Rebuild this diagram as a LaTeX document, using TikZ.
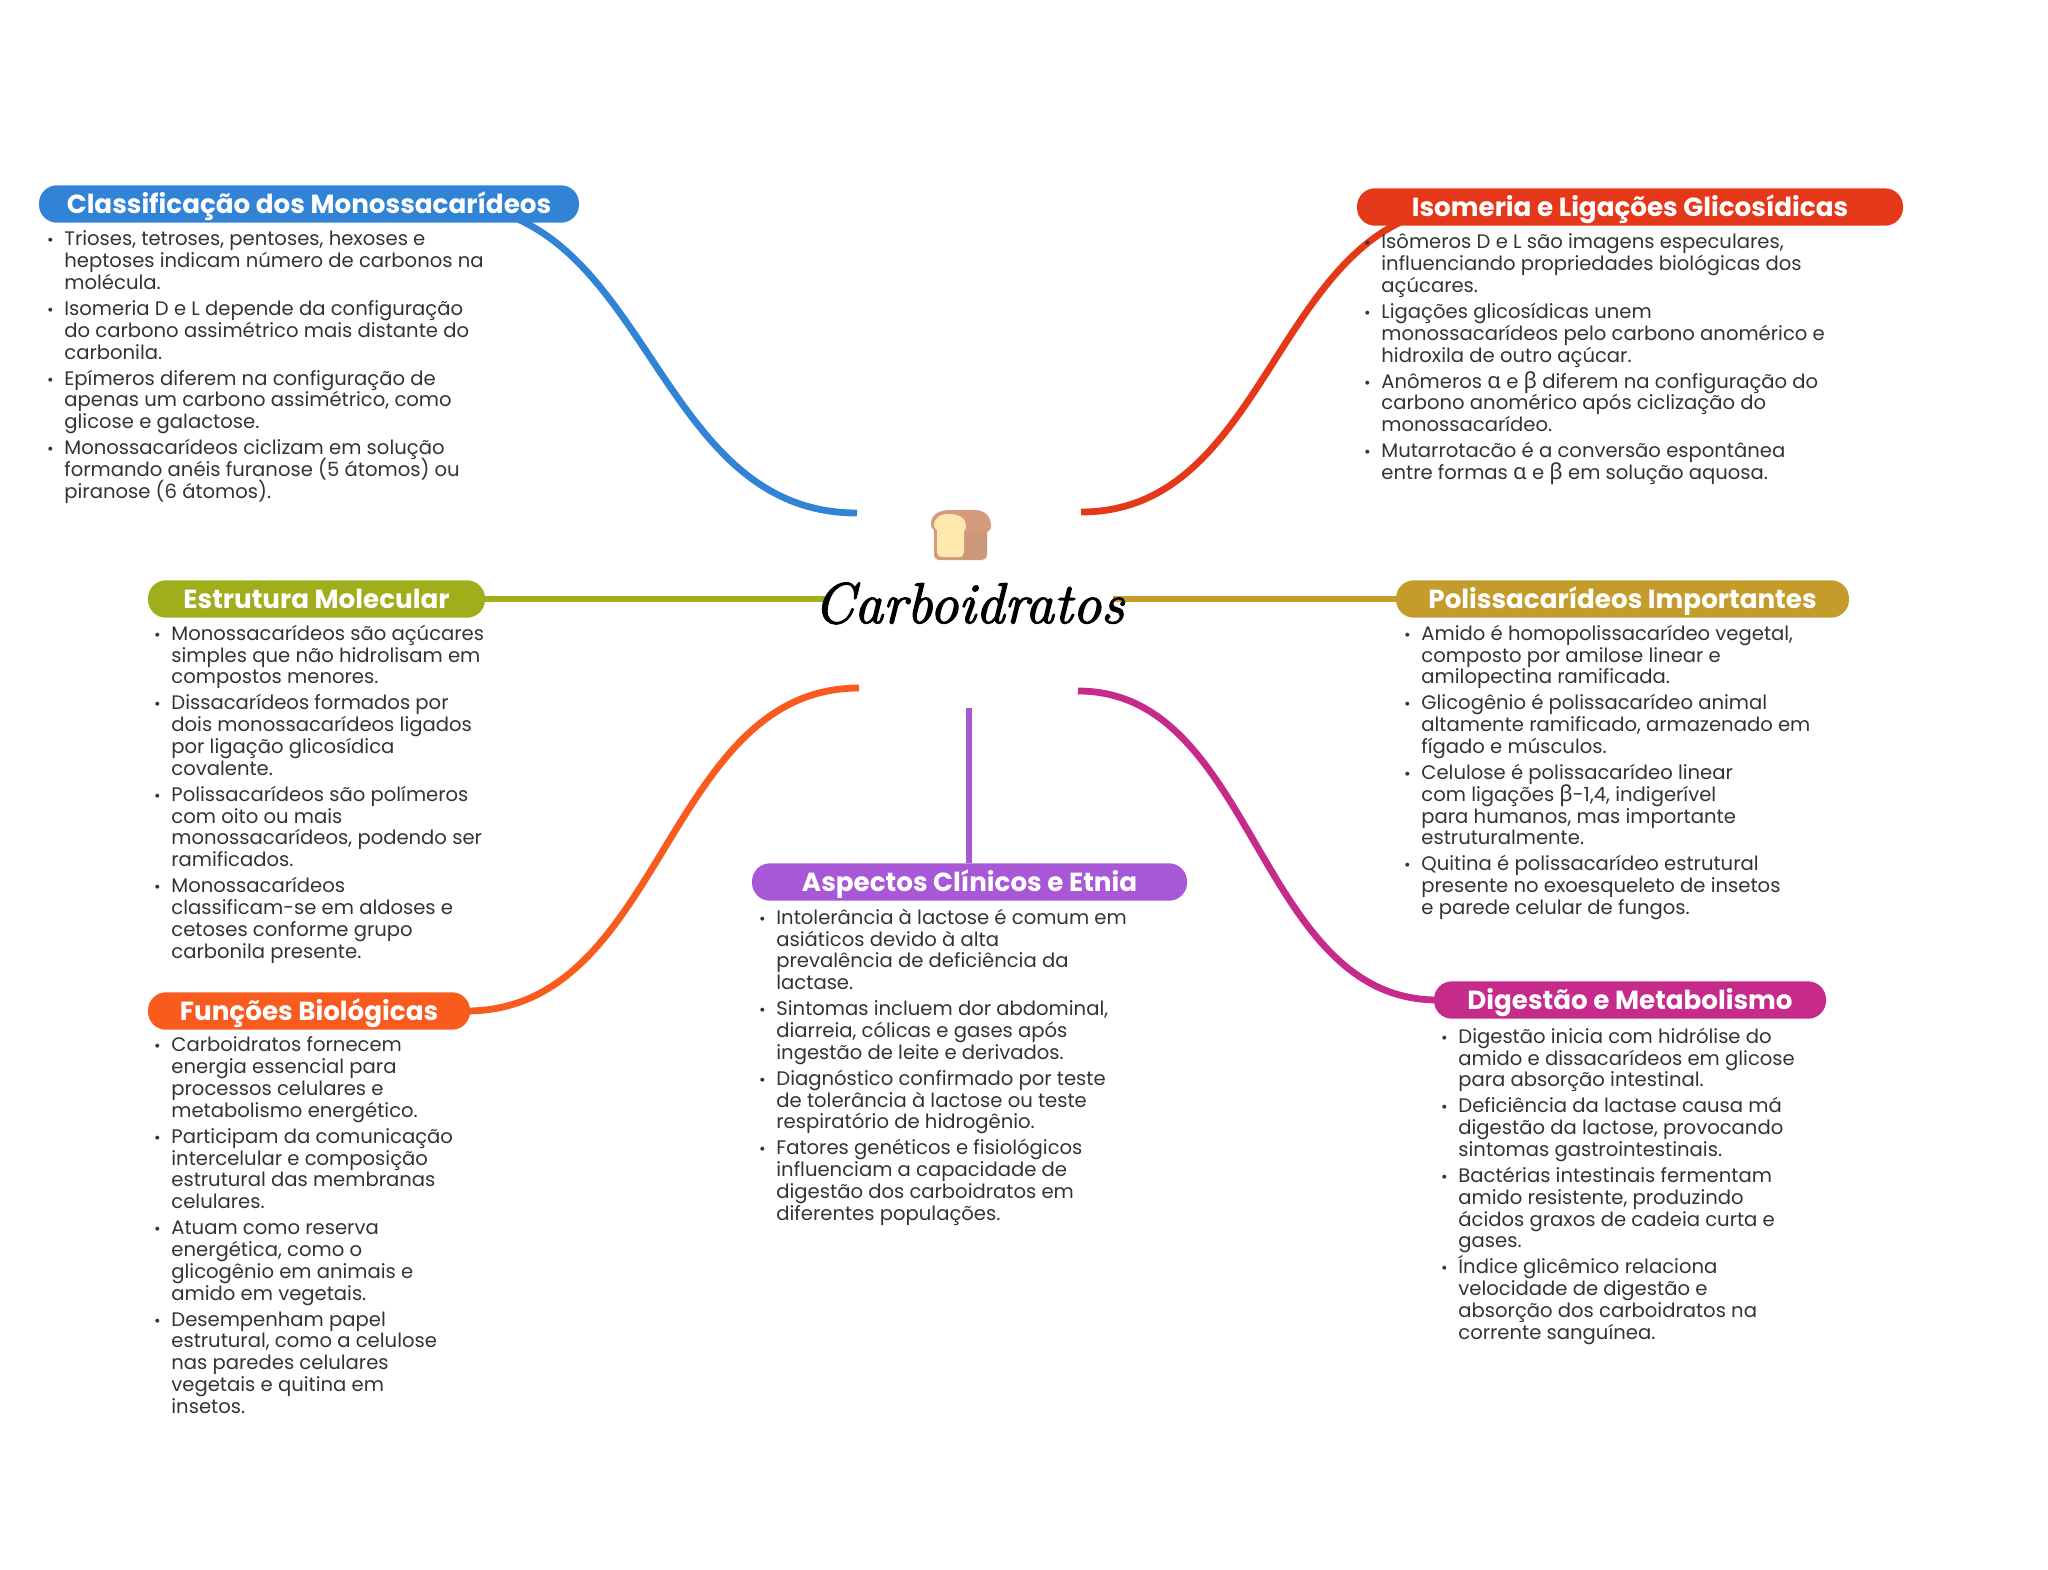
\documentclass[tikz,border=0pt]{standalone}
\usepackage{fontspec}
\usetikzlibrary{backgrounds}
\newfontfamily\pop{Poppins}
\newfontfamily\grk[Scale=1.12]{Noto Sans}
\newfontfamily\ttl[FakeBold=2.2]{Latin Modern Roman}
\definecolor{cblue}{HTML}{3184D5}
\definecolor{cred}{HTML}{E5381B}
\definecolor{colive}{HTML}{A0AE1B}
\definecolor{cgold}{HTML}{C49C2C}
\definecolor{corange}{HTML}{F95B1F}
\definecolor{cpurple}{HTML}{A858D6}
\definecolor{cmag}{HTML}{C62A8A}
\definecolor{ctext}{HTML}{333333}
\definecolor{crust}{HTML}{D69B7E}
\definecolor{crumb}{HTML}{FFE8AD}
\newcommand\bu{\leavevmode\llap{{\fontsize{8}{8}\selectfont•}\hspace{5.4pt}}}
\newcommand\al{{\grk α}}
\newcommand\be{{\grk β}}
\newcommand\gap{\\[2.1pt]}
\newcommand\bodyfont{\pop\fontsize{9.8}{10.9}\selectfont\setlength{\lineskiplimit}{-20pt}}
\tikzset{
  x=0.5pt,y=-0.5pt,
  head/.style={fill=#1,rounded corners=9pt,minimum height=18.7pt,inner sep=0pt,text=white,
    text height=9.2pt,text depth=0pt,
    font=\pop\bfseries\fontsize{13.1}{15}\selectfont},
  body/.style={anchor=north west,inner sep=0pt,align=left,text=ctext,font=\bodyfont},
  link/.style={line width=3.4pt,draw=#1},
}
\begin{document}
\begin{tikzpicture}
\useasboundingbox (0,0) rectangle (2048,1569);
% headers
\node[head=cblue,minimum width=270pt] (hb) at (309,204) {Classificação dos Monossacarídeos};
\node[head=cred,minimum width=273pt] (hr) at (1630,207) {Isomeria e Ligações Glicosídicas};
\node[head=colive,minimum width=168.5pt] (ho) at (316.5,599) {Estrutura Molecular};
\node[head=cgold,minimum width=226.5pt] (hg) at (1622.5,599) {Polissacarídeos Importantes};
\node[head=corange,minimum width=161pt] (hn) at (309,1011) {Funções Biológicas};
\node[head=cpurple,minimum width=217.5pt] (hp) at (969.5,882) {Aspectos Clínicos e Etnia};
\node[head=cmag,minimum width=196pt] (hm) at (1630,1000) {Digestão e Metabolismo};
% centre
\node[inner sep=0pt,anchor=base,font=\ttl\itshape\fontsize{28.7}{32}\selectfont] (title) at (969,623) {Carboidratos};
\coordinate (eb) at (857,513);
\coordinate (er) at (1081,512);
\coordinate (eo) at (825,599);
\coordinate (eg) at (1113,599);
\coordinate (en) at (859,688);
\coordinate (em) at (1078,691);
\coordinate (ep) at (969,708);
% bread
\fill[crust] (950,510) -- (975,510) .. controls (986,510) and (991,518) .. (991,526)
  .. controls (991,530) and (989,531) .. (987,532) -- (987,553) .. controls (987,558) and (985,560) .. (982,560)
  -- (940,560) .. controls (936,560) and (934,558) .. (934,554) -- (934,530)
  .. controls (931,529) and (931,527) .. (931,524) .. controls (931,515) and (938,510) .. (950,510) -- cycle;
\fill[crumb] (949,514) .. controls (960,514) and (966,519) .. (966,526) .. controls (966,529) and (965,530) .. (964,531)
  -- (964,552) .. controls (964,555) and (962,557) .. (960,557) -- (942,557) .. controls (939,557) and (937,555) .. (937,552)
  -- (937,530) .. controls (935,529) and (934,527) .. (934,525) .. controls (934,518) and (940,514) .. (949,514) -- cycle;
\fill[crust!85!black!90!white,opacity=0.35] (964,532) -- (987,532) -- (987,553) .. controls (987,558) and (985,560) .. (982,560) -- (962,560) -- (964,552) -- cycle;
% connectors
\begin{scope}[on background layer]
\draw[link=cblue] (eb) .. controls (651,513) and (651,204) .. ([xshift=-67pt]hb.east);
\draw[link=cred] (er) .. controls (1275,512) and (1275,207) .. ([xshift=56.5pt]hr.west);
\draw[link=colive] (eo) -- (ho.east);
\draw[link=cgold] (eg) -- (hg.west);
\draw[link=corange] (en) .. controls (664,688) and (664,1011) .. ([xshift=-2pt]hn.east);
\draw[link=cmag] (em) .. controls (1256,691) and (1256,1000) .. ([xshift=2pt]hm.west);
\draw[link=cpurple] (ep) -- (hp.north-|ep);
\end{scope}
% bodies
\node[body] (tb) at (64,230.5) {\bu Trioses, tetroses, pentoses, hexoses e\\heptoses indicam número de carbonos na\\molécula.\gap
\bu Isomeria D e L depende da configuração\\do carbono assimétrico mais distante do\\carbonila.\gap
\bu Epímeros diferem na configuração de\\apenas um carbono assimétrico, como\\glicose e galactose.\gap
\bu Monossacarídeos ciclizam em solução\\formando anéis furanose (5 átomos) ou\\piranose (6 átomos).};
\node[body] (tr) at (1381,233.5) {\bu Isômeros D e L são imagens especulares,\\influenciando propriedades biológicas dos\\açúcares.\gap
\bu Ligações glicosídicas unem\\monossacarídeos pelo carbono anomérico e\\hidroxila de outro açúcar.\gap
\bu Anômeros \al{} e \be{} diferem na configuração do\\carbono anomérico após ciclização do\\monossacarídeo.\gap
\bu Mutarrotacão é a conversão espontânea\\entre formas \al{} e \be{} em solução aquosa.};
\node[body] (to) at (171,624.5) {\bu Monossacarídeos são açúcares\\simples que não hidrolisam em\\compostos menores.\gap
\bu Dissacarídeos formados por\\dois monossacarídeos ligados\\por ligação glicosídica\\covalente.\gap
\bu Polissacarídeos são polímeros\\com oito ou mais\\monossacarídeos, podendo ser\\ramificados.\gap
\bu Monossacarídeos\\classificam-se em aldoses e\\cetoses conforme grupo\\carbonila presente.};
\node[body] (tg) at (1421,624.5) {\bu Amido é homopolissacarídeo vegetal,\\composto por amilose linear e\\amilopectina ramificada.\gap
\bu Glicogênio é polissacarídeo animal\\altamente ramificado, armazenado em\\fígado e músculos.\gap
\bu Celulose é polissacarídeo linear\\com ligações \be-1,4, indigerível\\para humanos, mas importante\\estruturalmente.\gap
\bu Quitina é polissacarídeo estrutural\\presente no exoesqueleto de insetos\\e parede celular de fungos.};
\node[body] (tn) at (171,1036.5) {\bu Carboidratos fornecem\\energia essencial para\\processos celulares e\\metabolismo energético.\gap
\bu Participam da comunicação\\intercelular e composição\\estrutural das membranas\\celulares.\gap
\bu Atuam como reserva\\energética, como o\\glicogênio em animais e\\amido em vegetais.\gap
\bu Desempenham papel\\estrutural, como a celulose\\nas paredes celulares\\vegetais e quitina em\\insetos.};
\node[body] (tp) at (776,908.5) {\bu Intolerância à lactose é comum em\\asiáticos devido à alta\\prevalência de deficiência da\\lactase.\gap
\bu Sintomas incluem dor abdominal,\\diarreia, cólicas e gases após\\ingestão de leite e derivados.\gap
\bu Diagnóstico confirmado por teste\\de tolerância à lactose ou teste\\respiratório de hidrogênio.\gap
\bu Fatores genéticos e fisiológicos\\influenciam a capacidade de\\digestão dos carboidratos em\\diferentes populações.};
\node[body] (tm) at (1458,1027.5) {\bu Digestão inicia com hidrólise do\\amido e dissacarídeos em glicose\\para absorção intestinal.\gap
\bu Deficiência da lactase causa má\\digestão da lactose, provocando\\sintomas gastrointestinais.\gap
\bu Bactérias intestinais fermentam\\amido resistente, produzindo\\ácidos graxos de cadeia curta e\\gases.\gap
\bu Índice glicêmico relaciona\\velocidade de digestão e\\absorção dos carboidratos na\\corrente sanguínea.};
\end{tikzpicture}
\end{document}
